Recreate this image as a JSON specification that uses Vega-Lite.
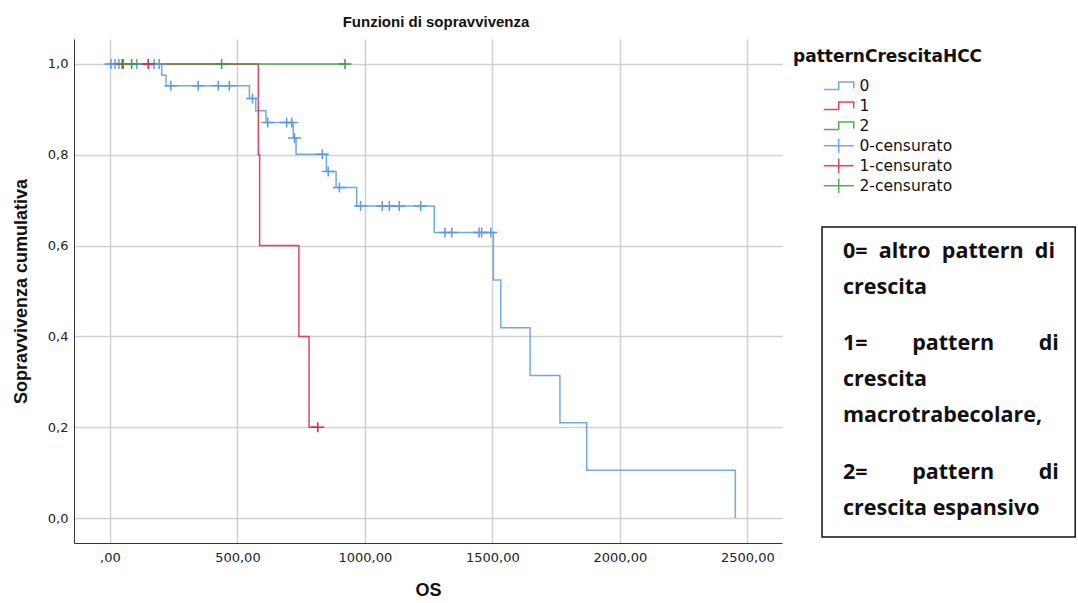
{
  "$schema": "https://vega.github.io/schema/vega-lite/v6.json",
  "width": 708,
  "height": 504,
  "autosize": {"type": "none"},
  "padding": {"left": 74, "top": 39, "right": 296, "bottom": 60},
  "background": "white",
  "title": {"text": "Funzioni di sopravvivenza", "font": "Liberation Sans", "fontSize": 15, "fontWeight": "bold", "color": "#111", "anchor": "middle", "offset": 9, "dx": 8},
  "config": {
    "view": {"stroke": null},
    "axis": {"domainColor": "#333", "domainWidth": 1, "ticks": false, "gridColor": "#d0d0d0", "gridWidth": 1.5, "labelFont": "DejaVu Sans", "labelFontSize": 13, "labelColor": "#222", "titleFont": "Liberation Sans", "titleFontSize": 18, "titleFontWeight": "bold", "titleColor": "#111", "labelFlush": false, "labelOverlap": false}
  },
  "datasets": {
    "km": [
      {"type": "step", "key": "0", "t": 0, "S": 1},
      {"type": "step", "key": "0", "t": 203, "S": 0.975},
      {"type": "step", "key": "0", "t": 220, "S": 0.952},
      {"type": "step", "key": "0", "t": 547, "S": 0.924},
      {"type": "step", "key": "0", "t": 572, "S": 0.897},
      {"type": "step", "key": "0", "t": 612, "S": 0.871},
      {"type": "step", "key": "0", "t": 719, "S": 0.837},
      {"type": "step", "key": "0", "t": 730, "S": 0.801},
      {"type": "step", "key": "0", "t": 849, "S": 0.763},
      {"type": "step", "key": "0", "t": 887, "S": 0.728},
      {"type": "step", "key": "0", "t": 968, "S": 0.687},
      {"type": "step", "key": "0", "t": 1272, "S": 0.629},
      {"type": "step", "key": "0", "t": 1504, "S": 0.524},
      {"type": "step", "key": "0", "t": 1533, "S": 0.419},
      {"type": "step", "key": "0", "t": 1648, "S": 0.314},
      {"type": "step", "key": "0", "t": 1765, "S": 0.21},
      {"type": "step", "key": "0", "t": 1870, "S": 0.105},
      {"type": "step", "key": "0", "t": 2453, "S": 0},
      {"type": "step", "key": "1", "t": 0, "S": 1},
      {"type": "step", "key": "1", "t": 582, "S": 0.8},
      {"type": "step", "key": "1", "t": 587, "S": 0.6},
      {"type": "step", "key": "1", "t": 741, "S": 0.4},
      {"type": "step", "key": "1", "t": 781, "S": 0.2},
      {"type": "step", "key": "1", "t": 815, "S": 0.2},
      {"type": "step", "key": "2", "t": 0, "S": 1},
      {"type": "step", "key": "2", "t": 922, "S": 1},
      {"type": "cens", "key": "0-censurato", "t": 4, "S": 1},
      {"type": "cens", "key": "0-censurato", "t": 20, "S": 1},
      {"type": "cens", "key": "0-censurato", "t": 35, "S": 1},
      {"type": "cens", "key": "0-censurato", "t": 105, "S": 1},
      {"type": "cens", "key": "0-censurato", "t": 173, "S": 1},
      {"type": "cens", "key": "0-censurato", "t": 193, "S": 1},
      {"type": "cens", "key": "0-censurato", "t": 239, "S": 0.952},
      {"type": "cens", "key": "0-censurato", "t": 346, "S": 0.952},
      {"type": "cens", "key": "0-censurato", "t": 425, "S": 0.952},
      {"type": "cens", "key": "0-censurato", "t": 468, "S": 0.952},
      {"type": "cens", "key": "0-censurato", "t": 559, "S": 0.924},
      {"type": "cens", "key": "0-censurato", "t": 619, "S": 0.871},
      {"type": "cens", "key": "0-censurato", "t": 693, "S": 0.871},
      {"type": "cens", "key": "0-censurato", "t": 713, "S": 0.871},
      {"type": "cens", "key": "0-censurato", "t": 724, "S": 0.837},
      {"type": "cens", "key": "0-censurato", "t": 833, "S": 0.801},
      {"type": "cens", "key": "0-censurato", "t": 856, "S": 0.763},
      {"type": "cens", "key": "0-censurato", "t": 900, "S": 0.728},
      {"type": "cens", "key": "0-censurato", "t": 983, "S": 0.687},
      {"type": "cens", "key": "0-censurato", "t": 1068, "S": 0.687},
      {"type": "cens", "key": "0-censurato", "t": 1096, "S": 0.687},
      {"type": "cens", "key": "0-censurato", "t": 1135, "S": 0.687},
      {"type": "cens", "key": "0-censurato", "t": 1219, "S": 0.687},
      {"type": "cens", "key": "0-censurato", "t": 1314, "S": 0.629},
      {"type": "cens", "key": "0-censurato", "t": 1341, "S": 0.629},
      {"type": "cens", "key": "0-censurato", "t": 1448, "S": 0.629},
      {"type": "cens", "key": "0-censurato", "t": 1458, "S": 0.629},
      {"type": "cens", "key": "0-censurato", "t": 1494, "S": 0.629},
      {"type": "cens", "key": "1-censurato", "t": 48, "S": 1},
      {"type": "cens", "key": "1-censurato", "t": 150, "S": 1},
      {"type": "cens", "key": "1-censurato", "t": 815, "S": 0.2},
      {"type": "cens", "key": "2-censurato", "t": 52, "S": 1},
      {"type": "cens", "key": "2-censurato", "t": 85, "S": 1},
      {"type": "cens", "key": "2-censurato", "t": 438, "S": 1},
      {"type": "cens", "key": "2-censurato", "t": 922, "S": 1}
    ],
    "note": [
      {"para": 1, "text": "0=\u00a0\u00a0altro\u00a0\u00a0pattern\u00a0\u00a0di\ncrescita"},
      {"para": 2, "text": "1=\u00a0\u00a0\u00a0\u00a0\u00a0\u00a0\u00a0\u00a0pattern\u00a0\u00a0\u00a0\u00a0\u00a0\u00a0\u00a0\u00a0di\ncrescita\nmacrotrabecolare,"},
      {"para": 3, "text": "2=\u00a0\u00a0\u00a0\u00a0\u00a0\u00a0\u00a0\u00a0pattern\u00a0\u00a0\u00a0\u00a0\u00a0\u00a0\u00a0\u00a0di\ncrescita espansivo"}
    ]
  },
  "layer": [
    {
      "data": {"name": "km"},
      "transform": [{"filter": "datum.type === 'step'"}],
      "mark": {"type": "line", "interpolate": "step-after", "strokeWidth": 1.5, "opacity": 0.85},
      "encoding": {
        "x": {"field": "t", "type": "quantitative", "scale": {"domain": [-141, 2636], "nice": false, "zero": false},
          "axis": {"title": "OS", "values": [0, 500, 1000, 1500, 2000, 2500], "labelExpr": "datum.value == 0 ? ',00' : replace(format(datum.value, '.2f'), '.', ',')", "labelPadding": 8, "titlePadding": 17}},
        "y": {"field": "S", "type": "quantitative", "scale": {"domain": [-0.055, 1.055], "nice": false, "zero": false},
          "axis": {"title": "Sopravvivenza cumulativa", "values": [0, 0.2, 0.4, 0.6, 0.8, 1], "labelExpr": "replace(format(datum.value, '.1f'), '.', ',')", "labelPadding": 6, "titlePadding": 17}},
        "color": {"field": "key", "type": "nominal",
          "scale": {"domain": ["0", "1", "2", "0-censurato", "1-censurato", "2-censurato"], "range": ["#5b9ae6", "#e0244a", "#3d9a3d", "#5b9ae6", "#e0244a", "#3d9a3d"]},
          "legend": {"title": "patternCrescitaHCC", "orient": "none", "legendX": 719, "legendY": 10,
            "titleFont": "DejaVu Sans", "titleFontSize": 17, "titleFontWeight": "bold", "titleColor": "#111", "titlePadding": 10, "titleLimit": 400,
            "labelFont": "DejaVu Sans", "labelFontSize": 15.5, "labelColor": "#111", "labelLimit": 300,
            "symbolSize": 144, "symbolStrokeWidth": 1.5, "symbolFillColor": "transparent", "symbolOffset": 38, "labelOffset": 13, "rowPadding": 0, "clipHeight": 19.6}},
        "detail": {"field": "key"}
      }
    },
    {
      "data": {"name": "km"},
      "transform": [{"filter": "datum.type === 'legend'"}],
      "mark": {"type": "point", "filled": false, "strokeWidth": 1.5, "size": 144},
      "encoding": {
        "x": {"field": "t", "type": "quantitative"},
        "y": {"field": "S", "type": "quantitative"},
        "color": {"field": "key", "type": "nominal"},
        "shape": {"field": "key", "type": "nominal",
          "scale": {"domain": ["0", "1", "2", "0-censurato", "1-censurato", "2-censurato"],
            "range": ["M-2.5,0.63L0,0.63L0,-0.63L2.5,-0.63L2.5,0.45", "M-2.5,0.63L0,0.63L0,-0.63L2.5,-0.63L2.5,0.45", "M-2.5,0.63L0,0.63L0,-0.63L2.5,-0.63L2.5,0.45", "M-2.5,0L2.5,0M0,-1.2L0,1.2", "M-2.5,0L2.5,0M0,-1.2L0,1.2", "M-2.5,0L2.5,0M0,-1.2L0,1.2"]}}
      }
    },
    {
      "data": {"name": "km"},
      "transform": [{"filter": "datum.type === 'cens'"}],
      "mark": {"type": "point", "filled": false, "strokeWidth": 1.5, "size": 169, "opacity": 1, "shape": "M-1,0L1,0M0,-0.77L0,0.77"},
      "encoding": {
        "x": {"field": "t", "type": "quantitative"},
        "y": {"field": "S", "type": "quantitative"},
        "color": {"field": "key", "type": "nominal"}
      }
    },
    {
      "data": {"values": [{"box": "nota"}]},
      "mark": {"type": "rect", "fill": null, "fillOpacity": 0, "stroke": "#111", "strokeWidth": 1.5},
      "encoding": {
        "x": {"datum": 2793}, "x2": {"datum": 3786},
        "y": {"datum": 0.641}, "y2": {"datum": -0.042}
      }
    },
    {
      "data": {"name": "note"},
      "transform": [{"filter": "datum.para === 1"}],
      "mark": {"type": "text", "align": "left", "baseline": "middle", "lineBreak": "\n", "lineHeight": 36, "font": "Open Sans", "fontWeight": "bold", "fontSize": 21.5, "color": "#111"},
      "encoding": {"x": {"datum": 2875}, "y": {"datum": 0.586}, "text": {"field": "text"}}
    },
    {
      "data": {"name": "note"},
      "transform": [{"filter": "datum.para === 2"}],
      "mark": {"type": "text", "align": "left", "baseline": "middle", "lineBreak": "\n", "lineHeight": 36, "font": "Open Sans", "fontWeight": "bold", "fontSize": 21.5, "color": "#111"},
      "encoding": {"x": {"datum": 2875}, "y": {"datum": 0.383}, "text": {"field": "text"}}
    },
    {
      "data": {"name": "note"},
      "transform": [{"filter": "datum.para === 3"}],
      "mark": {"type": "text", "align": "left", "baseline": "middle", "lineBreak": "\n", "lineHeight": 36, "font": "Open Sans", "fontWeight": "bold", "fontSize": 21.5, "color": "#111"},
      "encoding": {"x": {"datum": 2875}, "y": {"datum": 0.1}, "text": {"field": "text"}}
    }
  ]
}
